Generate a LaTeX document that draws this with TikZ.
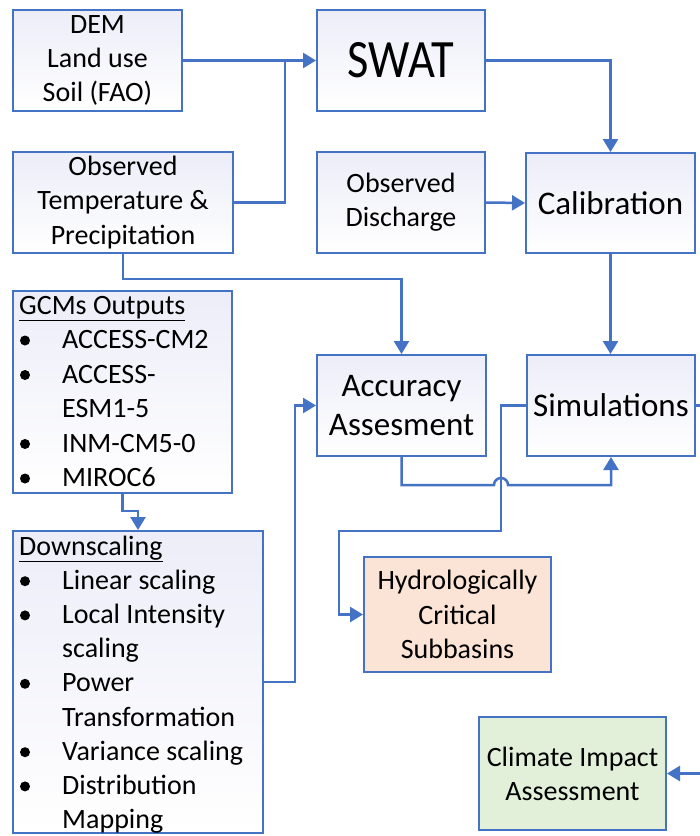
\documentclass[tikz,border=0pt]{standalone}
\usepackage{fontspec}
\setmainfont{Carlito}
\usetikzlibrary{arrows.meta}
\definecolor{myblue}{RGB}{68,114,196}
\definecolor{boxtop}{RGB}{236,237,248}
\definecolor{peach}{RGB}{251,228,213}
\definecolor{lgreen}{RGB}{226,240,217}
\newcommand{\fsa}{\fontsize{28}{34.2}\selectfont}
\newcommand{\fsb}{\fontsize{33}{39}\selectfont}
\begin{document}
\begin{tikzpicture}[x=1pt,y=-1pt,
  box/.style={draw=myblue, line width=2pt, top color=boxtop, bottom color=white,
    inner sep=0pt, align=center, font=\fsa},
  flat/.style={draw=myblue, line width=2pt, inner sep=0pt, align=center, font=\fsa},
  item/.style={font=\fsa, inner sep=0pt, anchor=base west},
  blt/.style={circle, fill=black, inner sep=0pt, minimum size=10pt},
  line/.style={draw=myblue, line width=2.5pt},
  conn/.style={line, -{Triangle[length=13pt,width=15pt]}}]
\useasboundingbox[fill=white] (0,0) rectangle (700,836);

% boxes
\node[box, minimum width=169pt, minimum height=101pt] (dem) at (97.5,60.5) {DEM\\Land use\\Soil (FAO)};
\node[box, minimum width=168pt, minimum height=101pt, font=\fontsize{54}{60}\selectfont] (swat) at (401,60.5) {\scalebox{0.86}[1]{SWAT}};
\node[box, minimum width=220pt, minimum height=101pt] (obs) at (123,202.5) {Observed\\Temperature \&\\Precipitation};
\node[box, minimum width=168pt, minimum height=101pt] (dis) at (401,202.5) {Observed\\Discharge};
\node[box, minimum width=169pt, minimum height=100pt, font=\fsb] (cal) at (610.5,203) {Calibration};
\node[box, minimum width=219pt, minimum height=202pt] (gcm) at (122.5,392) {};
\node[box, minimum width=169pt, minimum height=101pt, font=\fsb] (acc) at (401.5,405.5) {Accuracy\\Assesment};
\node[box, minimum width=168pt, minimum height=101pt, font=\fsb] (sim) at (611,405.5) {Simulations};
\node[box, minimum width=250pt, minimum height=302pt] (down) at (138,682) {};
\node[flat, fill=peach, minimum width=187pt, minimum height=115pt] (hyd) at (457.5,614.5) {Hydrologically\\Critical\\Subbasins};
\node[flat, fill=lgreen, minimum width=187pt, minimum height=113pt] (cia) at (572.5,773.5) {Climate Impact\\Assessment};

% GCM list
\node[item] (gh) at (19,314) {\underline{GCMs Outputs}};
\node[item] (g1) at (62,348.5) {ACCESS-CM2};
\node[item] (g2) at (62,383) {ACCESS-};
\node[item] (g3) at (62,417.5) {ESM1-5};
\node[item] (g4) at (62,452) {INM-CM5-0};
\node[item] (g5) at (62,486.5) {MIROC6};
\node[blt] (gb1) at (25,340.5) {};
\node[blt] (gb2) at (25,375) {};
\node[blt] (gb4) at (25,444) {};
\node[blt] (gb5) at (25,478.5) {};

% Downscaling list
\node[item] (dh) at (19,555) {\underline{Downscaling}};
\node[item] (d1) at (62,589.2) {Linear scaling};
\node[item] (d2) at (62,623.4) {Local Intensity};
\node[item] (d3) at (62,657.6) {scaling};
\node[item] (d4) at (62,691.8) {Power};
\node[item] (d5) at (62,726) {Transformation};
\node[item] (d6) at (62,760.2) {Variance scaling};
\node[item] (d7) at (62,794.4) {Distribution};
\node[item] (d8) at (62,828.6) {Mapping};
\node[blt] (db1) at (25,581.2) {};
\node[blt] (db2) at (25,615.4) {};
\node[blt] (db4) at (25,683.8) {};
\node[blt] (db6) at (25,752.2) {};
\node[blt] (db7) at (25,786.4) {};

% junction coordinates
\coordinate (j1) at (285,60.5);
\coordinate (j2) at (295,405.5);
\coordinate (h1) at (494,485);
\coordinate (s1) at (501,531);
\coordinate (s2) at (339,614.5);
\coordinate (r1) at (704,405.5);
\coordinate (r2) at (704,773.5);

% connectors
\draw[conn] (dem.east) -- (swat.west);
\draw[line] (obs.east) -| (j1);
\draw[conn] (swat.east) -| (cal.north);
\draw[conn] (dis.east) -- (cal.west);
\draw[conn] (cal.south) -- (cal.south |- sim.north);
\draw[conn] (obs.south) -- ++(0,25) -| (acc.north);
\draw[conn] (gcm.south) -- ++(0,17) -| (down.north);
\draw[conn] (down.east) -| (j2) -- (acc.west);
\draw[conn] (acc.south) |- (h1) arc[start angle=180, end angle=360, radius=7] -| (sim.south);
\draw[conn] (sim.west) -| (s1) -| (s2) -- (hyd.west);
\draw[conn] (sim.east) -- (r1) -- (r2) -- (cia.east);
\end{tikzpicture}
\end{document}
